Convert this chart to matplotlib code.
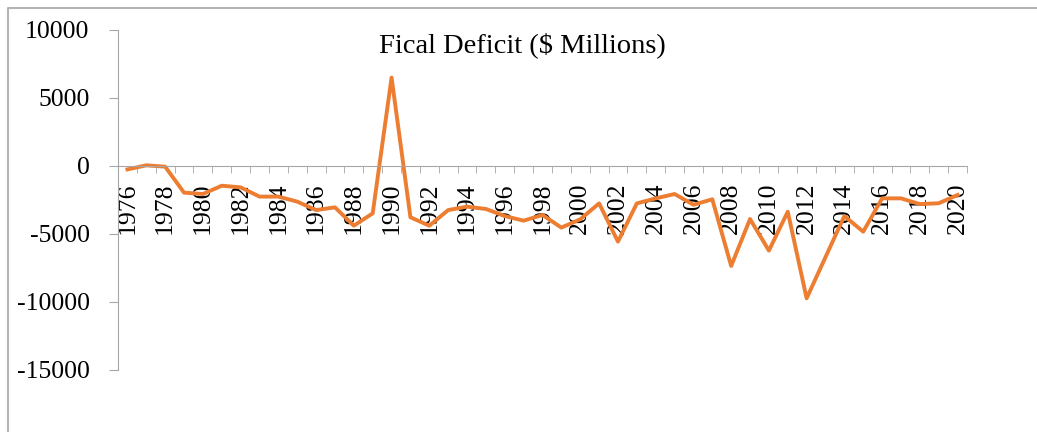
import matplotlib
matplotlib.use("Agg")
import matplotlib.pyplot as plt
from matplotlib.lines import Line2D

plt.rcParams['font.family'] = ['Liberation Serif', 'DejaVu Serif']

# Fiscal deficit data
years = list(range(1976, 2021))
deficit = [-250, 50, -50, -1960, -2060, -1450, -1570, -2250, -2250, -2620,
           -3240, -3040, -4390, -3480, 6500, -3770, -4390, -3240, -2990, -3160,
           -3680, -4020, -3600, -4530, -3920, -2750, -5560, -2750, -2380, -2060,
           -2850, -2450, -7350, -3900, -6220, -3360, -9730, -6700, -3680, -4830,
           -2380, -2380, -2800, -2740, -2130]
yticks = [10000, 5000, 0, -5000, -10000, -15000]
axis_grey = '#A6A6A6'

W, H = 1037, 432
fig = plt.figure(figsize=(W / 100, H / 100), dpi=100)
ax = fig.add_axes([118 / W, 1 - 370 / H, (967 - 118) / W, 340 / H])

x = list(range(len(years)))
ax.plot(x, deficit, color='#ED7D31', linewidth=2.8, solid_joinstyle='round')

ax.set_xlim(-0.5, len(years) - 0.5)
ax.set_ylim(-15000, 10000)

for side in ['top', 'right']:
    ax.spines[side].set_visible(False)
ax.spines['bottom'].set_position(('data', 0))
ax.spines['bottom'].set_color(axis_grey)
ax.spines['left'].set_color(axis_grey)

# category labels every other year, tick marks between categories
ax.set_xticks(x[::2])
ax.set_xticklabels([str(y) for y in years[::2]], rotation=90, fontsize=18.5)
ax.set_xticks([i - 0.5 for i in range(len(years) + 1)], minor=True)
ax.tick_params(axis='x', which='major', length=0, pad=12)
ax.tick_params(axis='x', which='minor', length=5, direction='out', color=axis_grey)

ax.set_yticks(yticks)
ax.set_yticklabels([str(v) for v in yticks], fontsize=18.5)
ax.tick_params(axis='y', length=6.5, direction='out', color=axis_grey, pad=14)

fig.text(522 / W, 1 - 45 / H, 'Fical Deficit ($ Millions)', ha='center', va='center', fontsize=20.5)

# chart area border (right and bottom edges fall outside the image)
fig.add_artist(Line2D([7.5 / W, 7.5 / W, 1.0], [0.0, 1 - 8 / H, 1 - 8 / H],
                      transform=fig.transFigure, color='#B4B4B4', linewidth=1.5))

fig.savefig('out.png', dpi=100)
